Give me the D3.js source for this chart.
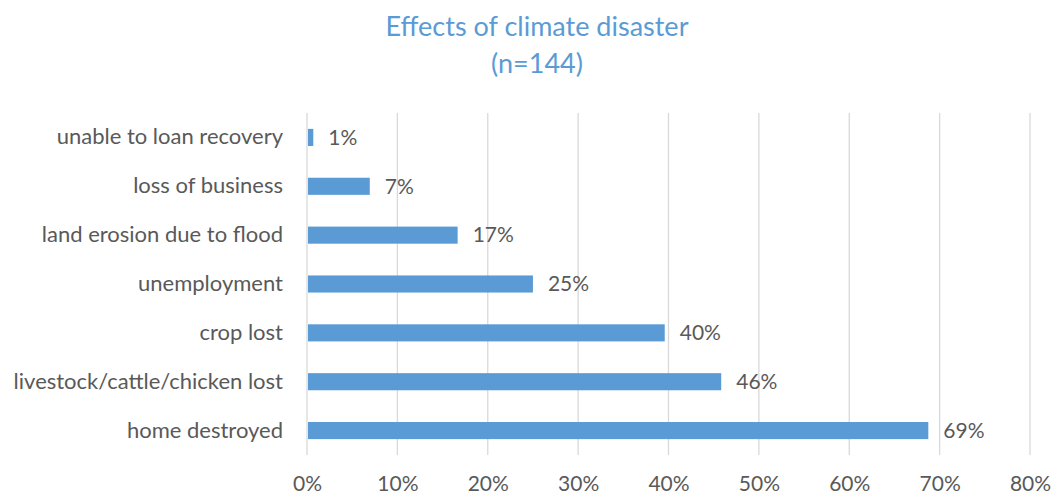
<!DOCTYPE html>
<html>
<head>
<meta charset="utf-8">
<script src="https://cdn.jsdelivr.net/npm/d3@7"></script>
<style>
  html, body { margin: 0; padding: 0; background: #fff; }
  svg text { font-family: Lato, "Open Sans", sans-serif; }
</style>
</head>
<body>
<svg id="chart" width="1053" height="494"></svg>
<script>
// Respondents reporting each effect (n = 144), top to bottom
const categories = [
  "unable to loan recovery",
  "loss of business",
  "land erosion due to flood",
  "unemployment",
  "crop lost",
  "livestock/cattle/chicken lost",
  "home destroyed"
];
const respondents = 144;
const counts = [1, 10, 24, 36, 57, 66, 99];
const shares = counts.map(c => c / respondents);
const xTicks = [0, 0.1, 0.2, 0.3, 0.4, 0.5, 0.6, 0.7, 0.8];
const titleLines = ["Effects of climate disaster", "(n=144)"];

const svg = d3.select("#chart");
const margin = { top: 113, right: 23, bottom: 39, left: 307 };
const W = 1053, H = 494;

const x = d3.scaleLinear()
  .domain([0, 0.8])
  .range([margin.left, W - margin.right]);

const y = d3.scaleBand()
  .domain(categories)
  .range([margin.top, H - margin.bottom])
  .paddingInner(0.65)
  .paddingOuter(0.325);

const blue = "#5B9BD5";
const textGray = "#595959";
const pct = d3.format(".0%");

// Title
svg.append("g")
  .selectAll("text")
  .data(titleLines)
  .join("text")
  .attr("x", 537)
  .attr("y", (d, i) => 36 + i * 37)
  .attr("text-anchor", "middle")
  .attr("fill", blue)
  .attr("font-size", 27)
  .text(d => d);

// Vertical gridlines
svg.append("g")
  .selectAll("line")
  .data(xTicks)
  .join("line")
  .attr("x1", d => x(d))
  .attr("x2", d => x(d))
  .attr("y1", margin.top)
  .attr("y2", H - margin.bottom)
  .attr("stroke", "#D9D9D9")
  .attr("stroke-width", 1.3);

// X axis labels
const xAxis = d3.axisBottom(x)
  .tickValues(xTicks)
  .tickFormat(pct)
  .tickSize(0)
  .tickPadding(0);

svg.append("g")
  .attr("transform", `translate(0,${H - margin.bottom})`)
  .call(xAxis)
  .call(g => g.select(".domain").remove())
  .call(g => g.selectAll("text")
    .attr("dy", null)
    .attr("y", 36)
    .attr("fill", textGray)
    .attr("font-size", 21)
    .attr("font-family", "Lato, sans-serif"));

// Category labels
const yAxis = d3.axisLeft(y).tickSize(0).tickPadding(0);
svg.append("g")
  .attr("transform", `translate(${margin.left - 24},0)`)
  .call(yAxis)
  .call(g => g.select(".domain").remove())
  .call(g => g.selectAll("text")
    .attr("fill", textGray)
    .attr("font-size", 22)
    .attr("font-family", "Lato, sans-serif"));

// Bars
svg.append("g")
  .selectAll("rect")
  .data(categories)
  .join("rect")
  .attr("x", x(0) + 1)
  .attr("y", d => y(d))
  .attr("width", (d, i) => x(shares[i]) - x(0) - 1)
  .attr("height", y.bandwidth())
  .attr("fill", blue);

// Value labels
svg.append("g")
  .selectAll("text")
  .data(categories)
  .join("text")
  .attr("x", (d, i) => x(shares[i]) + 15)
  .attr("y", d => y(d) + y.bandwidth() / 2)
  .attr("dy", "0.35em")
  .attr("fill", textGray)
  .attr("font-size", 21)
  .text((d, i) => pct(shares[i]));
</script>
</body>
</html>
